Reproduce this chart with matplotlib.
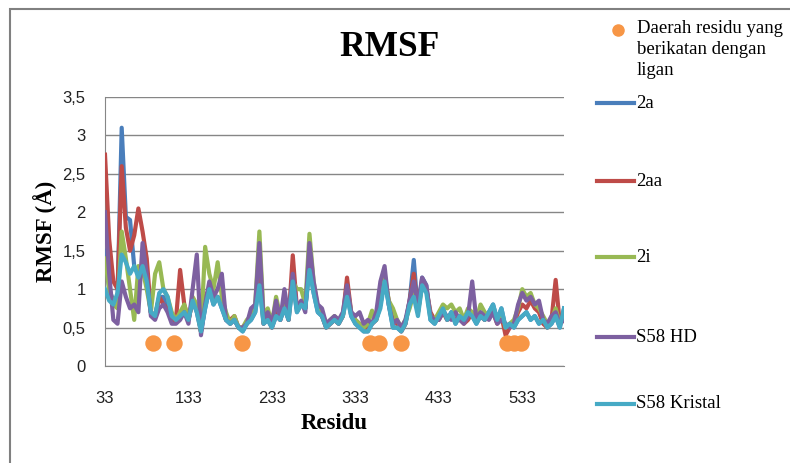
import numpy as np
import matplotlib
matplotlib.use("Agg")
import matplotlib.pyplot as plt
from matplotlib.lines import Line2D
from matplotlib.patches import Rectangle

# residue numbers (every 5th residue)
residu = list(range(33, 584, 5))

rmsf_2a = [1.5, 1.0, 0.85, 0.9, 3.1, 1.94, 1.9, 1.3, 1.2, 1.3, 1.1, 0.7, 0.65, 0.9, 0.9, 0.8, 0.6, 0.6, 0.7, 0.7,
           0.6, 0.85, 0.7, 0.45, 0.75, 1.0, 0.8, 0.9, 0.75, 0.6, 0.55, 0.6, 0.5, 0.45, 0.55, 0.6, 0.7, 1.1, 0.55, 0.6,
           0.5, 0.65, 0.6, 0.75, 0.6, 1.1, 0.7, 0.8, 0.75, 1.3, 0.95, 0.7, 0.65, 0.5, 0.55, 0.6, 0.55, 0.65, 0.95, 0.65,
           0.55, 0.5, 0.45, 0.45, 0.55, 0.6, 0.8, 1.15, 0.8, 0.5, 0.5, 0.45, 0.55, 0.85, 1.38, 0.7, 1.15, 1.05, 0.6, 0.55,
           0.65, 0.75, 0.6, 0.7, 0.55, 0.65, 0.6, 0.7, 0.65, 0.55, 0.65, 0.6, 0.7, 0.8, 0.6, 0.75, 0.5, 0.55, 0.5, 0.6,
           0.65, 0.7, 0.6, 0.65, 0.55, 0.6, 0.5, 0.55, 0.65, 0.5, 0.75]
rmsf_2aa = [2.75, 1.65, 1.1, 1.0, 2.6, 1.8, 1.5, 1.7, 2.05, 1.75, 1.4, 0.7, 0.65, 0.9, 0.8, 0.75, 0.6, 0.6, 1.25, 0.8,
            0.6, 0.85, 0.75, 0.45, 0.9, 1.0, 0.85, 0.9, 0.8, 0.6, 0.6, 0.65, 0.5, 0.5, 0.55, 0.65, 0.75, 1.3, 0.55, 0.65,
            0.5, 0.7, 0.6, 0.8, 0.6, 1.44, 0.75, 0.8, 0.75, 1.4, 1.0, 0.75, 0.65, 0.5, 0.55, 0.6, 0.55, 0.65, 1.15, 0.7,
            0.6, 0.55, 0.5, 0.5, 0.55, 0.6, 0.8, 1.15, 0.85, 0.6, 0.55, 0.45, 0.55, 0.85, 1.2, 0.7, 1.1, 1.0, 0.7, 0.6,
            0.6, 0.7, 0.6, 0.65, 0.6, 0.65, 0.55, 0.6, 0.7, 0.6, 0.65, 0.6, 0.65, 0.7, 0.55, 0.65, 0.4, 0.5, 0.55, 0.7,
            0.8, 0.75, 0.85, 0.75, 0.7, 0.55, 0.5, 0.6, 1.12, 0.55, 0.6]
rmsf_2i = [1.4, 1.0, 0.8, 0.75, 1.75, 1.4, 1.0, 0.6, 1.3, 1.25, 1.0, 0.7, 1.2, 1.35, 1.0, 0.9, 0.7, 0.6, 0.7, 0.8,
           0.6, 0.9, 0.8, 0.45, 1.55, 1.2, 1.0, 1.35, 0.9, 0.7, 0.55, 0.65, 0.5, 0.5, 0.6, 0.65, 0.8, 1.75, 0.65, 0.75,
           0.55, 0.9, 0.65, 0.85, 0.65, 1.1, 1.0, 1.0, 0.8, 1.72, 1.1, 0.75, 0.7, 0.55, 0.6, 0.65, 0.6, 0.65, 1.0, 0.7,
           0.6, 0.55, 0.5, 0.55, 0.72, 0.6, 0.95, 1.2, 0.85, 0.75, 0.6, 0.5, 0.6, 0.75, 0.95, 0.7, 1.05, 1.0, 0.65, 0.6,
           0.7, 0.8, 0.75, 0.8, 0.7, 0.75, 0.6, 0.75, 0.7, 0.6, 0.8, 0.7, 0.65, 0.75, 0.6, 0.7, 0.5, 0.55, 0.6, 0.75,
           1.0, 0.9, 0.95, 0.8, 0.75, 0.65, 0.55, 0.6, 0.75, 0.55, 0.65]
rmsf_s58hd = [2.0, 1.2, 0.6, 0.55, 1.1, 0.9, 0.75, 0.8, 0.7, 1.6, 1.2, 0.65, 0.6, 0.75, 0.8, 0.7, 0.55, 0.55, 0.6, 0.7,
              0.55, 1.0, 1.45, 0.4, 0.8, 1.1, 0.9, 1.0, 1.2, 0.6, 0.55, 0.6, 0.5, 0.5, 0.55, 0.75, 0.8, 1.6, 0.6, 0.7,
              0.55, 0.85, 0.6, 1.0, 0.65, 1.2, 0.75, 0.85, 0.7, 1.6, 1.1, 0.8, 0.75, 0.55, 0.6, 0.65, 0.6, 0.7, 1.05, 0.7,
              0.65, 0.7, 0.55, 0.6, 0.55, 0.7, 1.1, 1.3, 0.8, 0.55, 0.6, 0.5, 0.6, 0.85, 1.1, 0.8, 1.15, 1.05, 0.65, 0.6,
              0.6, 0.7, 0.65, 0.6, 0.7, 0.6, 0.55, 0.65, 1.1, 0.6, 0.7, 0.65, 0.6, 0.7, 0.55, 0.6, 0.55, 0.5, 0.55, 0.8,
              0.95, 0.85, 0.9, 0.8, 0.85, 0.6, 0.55, 0.65, 0.7, 0.55, 0.6]
rmsf_s58kristal = [1.0, 0.85, 0.8, 0.95, 1.45, 1.35, 1.2, 1.3, 1.15, 1.3, 1.1, 0.7, 0.65, 0.95, 1.0, 0.9, 0.65, 0.6, 0.65, 0.7,
                   0.6, 0.85, 0.7, 0.45, 0.75, 1.0, 0.8, 0.9, 0.75, 0.6, 0.55, 0.6, 0.5, 0.45, 0.55, 0.6, 0.7, 1.05, 0.55, 0.6,
                   0.5, 0.65, 0.6, 0.75, 0.6, 1.1, 0.7, 0.8, 0.75, 1.25, 0.95, 0.7, 0.65, 0.5, 0.55, 0.6, 0.55, 0.65, 0.9, 0.65,
                   0.55, 0.5, 0.45, 0.45, 0.55, 0.6, 0.75, 1.1, 0.8, 0.5, 0.5, 0.45, 0.55, 0.8, 0.9, 0.65, 1.05, 0.95, 0.6, 0.55,
                   0.65, 0.75, 0.6, 0.7, 0.55, 0.65, 0.6, 0.7, 0.65, 0.55, 0.65, 0.6, 0.7, 0.8, 0.6, 0.75, 0.5, 0.55, 0.5, 0.6,
                   0.65, 0.7, 0.6, 0.65, 0.55, 0.6, 0.5, 0.55, 0.65, 0.5, 0.75]

# ligand-binding residues
ligan_residu = [91, 116, 197, 350, 361, 388, 515, 523, 531]
ligan_y = [0.3] * len(ligan_residu)

series = [("2a", rmsf_2a, "#4A7EBB"), ("2aa", rmsf_2aa, "#BE4B48"), ("2i", rmsf_2i, "#98B954"),
          ("S58 HD", rmsf_s58hd, "#7D60A0"), ("S58 Kristal", rmsf_s58kristal, "#46AAC5")]
legend_y = [103, 181, 257, 337, 404]

W, H = 790, 463
fig = plt.figure(figsize=(W / 100, H / 100), dpi=100)
ax = fig.add_axes([105 / W, 1 - 366 / H, (564 - 105) / W, (366 - 97) / H])

serif = "Liberation Serif"
sans = "Liberation Sans"

for name, vals, col in series:
    ax.plot(residu, vals, color=col, lw=3.0, solid_joinstyle="round", zorder=3)
ax.scatter(ligan_residu, ligan_y, s=140, color="#F79646", zorder=4, linewidths=0)

ax.set_xlim(33, 583)
ax.set_ylim(0, 3.5)
ax.set_yticks(np.arange(0, 3.51, 0.5))
ax.set_yticklabels([f"{v:g}".replace(".", ",") for v in np.arange(0, 3.51, 0.5)])
ax.set_xticks([33, 133, 233, 333, 433, 533])
ax.grid(axis="y", color="#868686", lw=1)
ax.set_axisbelow(True)
for s in ["top", "right"]:
    ax.spines[s].set_visible(False)
for s in ["left", "bottom"]:
    ax.spines[s].set_color("#868686")
ax.tick_params(axis="y", length=0, pad=14, labelsize=12, colors="#222222")
ax.tick_params(axis="x", length=0, pad=18, labelsize=12, colors="#222222")
for lab in ax.get_xticklabels() + ax.get_yticklabels():
    lab.set_family(sans)

ax.set_xlabel("Residu", family=serif, fontweight="bold", fontsize=16.5, labelpad=5)
ax.set_ylabel("RMSF (Å)", family=serif, fontweight="bold", fontsize=16.5, labelpad=4)
fig.text(390 / W, 1 - 47 / H, "RMSF", family=serif, fontweight="bold", fontsize=25.5, ha="center", va="center")

# legend drawn by hand to match spacing
fig.add_artist(Line2D([618 / W], [1 - 30 / H], marker="o", color="#F79646", ms=8, lw=0))
fig.text(637 / W, 1 - 20 / H, "Daerah residu yang\nberikatan dengan\nligan", family=serif, fontsize=13.5,
         va="top", ha="left", linespacing=1.3)
for (name, vals, col), y in zip(series, legend_y):
    fig.add_artist(Line2D([597 / W, 634 / W], [1 - y / H] * 2, color=col, lw=3.0))
    fig.text(636 / W, 1 - y / H, name, family=serif, fontsize=13.5, va="center", ha="left")

fig.add_artist(Rectangle((10 / W, -0.1), 1.2, 1 - 9 / H + 0.1, transform=fig.transFigure,
                         fill=False, edgecolor="#808080", lw=1.5))

fig.savefig("out.png", dpi=100)
